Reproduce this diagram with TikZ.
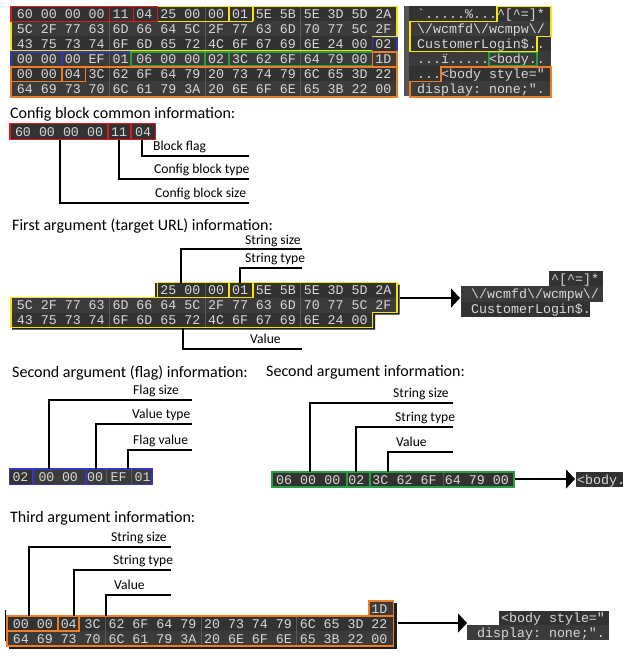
\documentclass[tikz,border=0pt]{standalone}
\usepackage{fontspec}
\setmainfont{Carlito}
\setmonofont{Liberation Mono}
\usetikzlibrary{arrows.meta}
\definecolor{bgA}{HTML}{323232}
\definecolor{bgB}{HTML}{3B3B3A}
\definecolor{barc}{HTML}{555555}
\definecolor{txt}{HTML}{D8D8D8}
\definecolor{sepc}{HTML}{5A5A5A}
\definecolor{shad}{HTML}{1E1E1E}
\definecolor{ored}{HTML}{E3161D}
\definecolor{oyel}{HTML}{F7E600}
\definecolor{oblu}{HTML}{3535C8}
\definecolor{ogrn}{HTML}{25A144}
\definecolor{oorg}{HTML}{F07D22}
\tikzset{
  hx/.style={font=\ttfamily\fontsize{13.3}{15}\selectfont, text=txt, inner sep=0pt, anchor=base},
  asc/.style={hx, anchor=base west},
  lbl/.style={font=\fontsize{13.6}{16}\selectfont, inner sep=0pt, anchor=base west},
  ttl/.style={font=\fontsize{16}{19}\selectfont, inner sep=0pt, anchor=base west},
  conn/.style={line width=1.3pt, black},
  ol/.style={line width=1.5pt},
  sepl/.style={draw=sepc, line width=1pt},
  arr/.style={conn, -{Triangle[length=9pt,width=19pt]}},
}
% #1 name prefix, #2 x0, #3 byte width, #4 baseline, #5 first column, #6 bytes
\newcommand\hexbytes[6]{%
  \foreach \b [count=\i from #5] in {#6} {
    \node[hx, name=#1\i] at ({#2+(\i+0.5)*#3-1}, #4) {\b};
  }}
\begin{document}
\begin{tikzpicture}[x=1pt,y=-1pt]
\useasboundingbox (0,0) rectangle (628,658);

% ================= top dump =================
\foreach \r in {0,2,4} \fill[bgA] (10,{6.5+15*\r}) rectangle (398,{21.5+15*\r});
\foreach \r in {1,3,5} \fill[bgB] (10,{6.5+15*\r}) rectangle (398,{21.5+15*\r});
\foreach \c in {4,8,12} \draw[sepl] ({14+23.9*\c},6.5) -- ({14+23.9*\c},96.5);
\hexbytes{ta}{14}{23.9}{18.4}{0}{60,00,00,00,11,04,25,00,00,01,5E,5B,5E,3D,5D,2A}
\hexbytes{tb}{14}{23.9}{33.4}{0}{5C,2F,77,63,6D,66,64,5C,2F,77,63,6D,70,77,5C,2F}
\hexbytes{tc}{14}{23.9}{48.4}{0}{43,75,73,74,6F,6D,65,72,4C,6F,67,69,6E,24,00,02}
\hexbytes{td}{14}{23.9}{63.4}{0}{00,00,00,EF,01,06,00,00,02,3C,62,6F,64,79,00,1D}
\hexbytes{te}{14}{23.9}{78.4}{0}{00,00,04,3C,62,6F,64,79,20,73,74,79,6C,65,3D,22}
\hexbytes{tf}{14}{23.9}{93.4}{0}{64,69,73,70,6C,61,79,3A,20,6E,6F,6E,65,3B,22,00}
% outlines
\draw[ol, oyel] (157.4,6.5) -- (397,6.5) -- (397,36.5) -- (372.5,36.5) -- (372.5,50.8)
  -- (11,50.8) -- (11,21.5) -- (157.4,21.5) -- cycle;
\draw[ol, oyel] (157.4,21.5) -- (253,21.5) (229.1,6.5) -- (229.1,21.5) (253,6.5) -- (253,21.5);
\draw[ol, ored] (11,6.5) rectangle (157.4,21.5) (109.6,6.5) -- (109.6,21.5) (133.5,6.5) -- (133.5,21.5);
\draw[ol, oblu] (372.5,37.3) rectangle (397,51.5);
\draw[ol, oblu] (11,52.2) rectangle (131,66.5) (61.8,52.2) -- (61.8,66.5);
\draw[ol, ogrn] (131,52.2) rectangle (372.5,66) (205.2,52.2) -- (205.2,66) (229.1,52.2) -- (229.1,66);
\draw[ol, oorg] (372.5,52.2) rectangle (397,66.5);
\draw[ol, oorg] (11,66.8) rectangle (397,96.8) (11,66.8) rectangle (85.7,81.5) (61.8,66.8) -- (61.8,81.5);

% ascii panel
\fill[barc] (404,6.5) rectangle (408.5,96.5);
\foreach \r in {0,2,4} \fill[bgA] (408.5,{6.5+15*\r}) rectangle (551,{21.5+15*\r});
\foreach \r in {1,3,5} \fill[bgB] (408.5,{6.5+15*\r}) rectangle (551,{21.5+15*\r});
\node[asc] (aa) at (417,18.4) {\symbol{96}.....\%...\textasciicircum[\textasciicircum=]*};
\node[asc] (ab) at (417,33.4) {\textbackslash/wcmfd\textbackslash/wcmpw\textbackslash/};
\node[asc] (ac) at (417,48.4) {CustomerLogin\$..};
\node[asc] (ad) at (417,63.4) {...ï.....<body..};
\node[asc] (ae) at (417,78.4) {...<body style="};
\node[asc] (af) at (417,93.4) {display: none;".};
\draw[ol, oyel] (497,6.5) -- (551,6.5) -- (551,36.5) -- (537,36.5) -- (537,51.5) -- (410,51.5)
  -- (410,21.5) -- (497,21.5) -- cycle;
\draw[ol, ogrn] (489,52.5) rectangle (537,66);
\draw[ol, oorg] (441,67) -- (551,67) -- (551,97) -- (410,97) -- (410,81.5) -- (441,81.5) -- cycle;

% ================= config block =================
\node[ttl] (t1) at (10,118) {Config block common information:};
\fill[bgA] (10,123.5) rectangle (155.5,139.5);
\hexbytes{c}{12}{24}{136}{0}{60,00,00,00,11,04}
\draw[ol, ored] (10,123.5) rectangle (155.5,139.5) (108,123.5) -- (108,139.5) (131,123.5) -- (131,139.5);
\draw[conn] (142,139.5) -- (142,156) -- (249,156);
\draw[conn] (119,139.5) -- (119,179) -- (249,179);
\draw[conn] (60,139.5) -- (60,203) -- (249,203);
\node[lbl] (l11) at (153,150.5) {Block flag};
\node[lbl] (l12) at (154,173.5) {Config block type};
\node[lbl] (l13) at (155,197.5) {Config block size};

% ================= first argument =================
\node[ttl] (t2) at (12,230) {First argument (target URL) information:};
\fill[shad] (157,284.5) -- (399.5,284.5) -- (399.5,314.5) -- (375,314.5) -- (375,329.5) -- (12,329.5)
  -- (12,299.5) -- (157,299.5) -- cycle;
\fill[bgA] (155,282.5) rectangle (397.5,297.5);
\fill[bgB] (10,297.5) rectangle (397.5,312.5);
\fill[bgA] (10,312.5) rectangle (373.5,327.5);
\draw[sepl] (205.2,282.5) -- (205.2,327.5) (300.8,282.5) -- (300.8,327.5) (109.6,297.5) -- (109.6,327.5);
\hexbytes{fa}{14}{23.9}{294.4}{6}{25,00,00,01,5E,5B,5E,3D,5D,2A}
\hexbytes{fb}{14}{23.9}{309.4}{0}{5C,2F,77,63,6D,66,64,5C,2F,77,63,6D,70,77,5C,2F}
\hexbytes{fc}{14}{23.9}{324.4}{0}{43,75,73,74,6F,6D,65,72,4C,6F,67,69,6E,24,00}
\draw[ol, oyel] (157.4,282.5) -- (397,282.5) -- (397,312.5) -- (372.5,312.5) -- (372.5,327.5)
  -- (11,327.5) -- (11,297.5) -- (157.4,297.5) -- cycle;
\draw[ol, oyel] (157.4,297.5) -- (253,297.5) (229.1,282.5) -- (229.1,297.5) (253,282.5) -- (253,297.5);
\draw[conn] (181,282.5) -- (181,249) -- (302,249);
\draw[conn] (240,282.5) -- (240,268) -- (302,268);
\draw[conn] (183,327.5) -- (183,349) -- (302,349);
\node[lbl] (l21) at (245,244) {String size};
\node[lbl] (l22) at (245,262.5) {String type};
\node[lbl] (l23) at (250,343.5) {Value};
\coordinate (a1s) at (399.5,298);
\coordinate (a1e) at (460,298);
\draw[arr] (a1s) -- (a1e);
\fill[bgA] (549,271) rectangle (603,286.3);
\fill[bgB] (461,286.3) rectangle (603,301.7);
\fill[bgA] (461,301.7) rectangle (590,317);
\node[asc] (o1a) at (551,283) {\textasciicircum[\textasciicircum=]*};
\node[asc] (o1b) at (471,298.4) {\textbackslash/wcmfd\textbackslash/wcmpw\textbackslash/};
\node[asc] (o1c) at (471,313.7) {CustomerLogin\$.};

% ================= second argument (flag) =================
\node[ttl] (t3) at (12,377) {Second argument (flag) information:};
\fill[bgA] (9.5,469) rectangle (33,484.5);
\fill[bgB] (33,469) rectangle (152,484.5);
\node[hx] (g1) at (20.5,481) {02};
\node[hx] (g2) at (46.5,481) {00};
\node[hx] (g3) at (70,481) {00};
\node[hx] (g4) at (95,481) {00};
\node[hx] (g5) at (118.5,481) {EF};
\node[hx] (g6) at (142.5,481) {01};
\draw[sepl] (106,469) -- (106,484.5) (131,469) -- (131,484.5);
\draw[ol, oblu] (9.5,469) rectangle (152,484.5) (33,469) -- (33,484.5) (86,469) -- (86,484.5);
\draw[conn] (49,469) -- (49,400) -- (192,400);
\draw[conn] (96,469) -- (96,424) -- (192,424);
\draw[conn] (128,469) -- (128,450) -- (192,450);
\node[lbl] (l31) at (133,394.5) {Flag size};
\node[lbl] (l32) at (132,418.5) {Value type};
\node[lbl] (l33) at (133,444.5) {Flag value};

% ================= second argument =================
\node[ttl] (t4) at (266,376) {Second argument information:};
\fill[bgA] (272,472) rectangle (514,487);
\draw[sepl] (443,472) -- (443,487);
\hexbytes{s}{273}{24.1}{484}{0}{06,00,00,02,3C,62,6F,64,79,00}
\draw[ol, ogrn] (272,472) rectangle (514,487) (347,472) -- (347,487) (370,472) -- (370,487);
\draw[conn] (310,472) -- (310,403) -- (453,403);
\draw[conn] (356,472) -- (356,427) -- (453,427);
\draw[conn] (388,472) -- (388,452) -- (453,452);
\node[lbl] (l41) at (393,397.5) {String size};
\node[lbl] (l42) at (395,421.5) {String type};
\node[lbl] (l43) at (396,446.5) {Value};
\coordinate (a2s) at (514.8,479);
\coordinate (a2e) at (575,479);
\draw[arr] (a2s) -- (a2e);
\fill[bgA] (576,472) rectangle (623,487);
\node[asc] (o2) at (577,484) {<body.};

% ================= third argument =================
\node[ttl] (t5) at (10,522) {Third argument information:};
\fill[shad] (371,603) rectangle (397,649);
\fill[shad] (9,618) rectangle (397,649);
\fill[bgB] (369,601) rectangle (393.5,616);
\fill[bgA] (7,616) rectangle (393.5,631);
\fill[bgB] (7,631) rectangle (393.5,646);
\draw[sepl] (105.6,616) -- (105.6,646) (201.2,616) -- (201.2,646) (296.8,616) -- (296.8,646);
\hexbytes{ha}{10}{23.9}{613}{15}{1D}
\hexbytes{hb}{10}{23.9}{628}{0}{00,00,04,3C,62,6F,64,79,20,73,74,79,6C,65,3D,22}
\hexbytes{hc}{10}{23.9}{643}{0}{64,69,73,70,6C,61,79,3A,20,6E,6F,6E,65,3B,22,00}
\draw[ol, oorg] (369,601) rectangle (393.5,616);
\draw[ol, oorg] (7,616) rectangle (393.5,646) (7,616) rectangle (79,631) (58,616) -- (58,631);
\draw[black, line width=1pt] (5.5,610) -- (5.5,641);
\draw[conn] (29,616) -- (29,547) -- (171,547);
\draw[conn] (74,616) -- (74,570) -- (171,570);
\draw[conn] (106,616) -- (106,595) -- (171,595);
\node[lbl] (l51) at (111,541.5) {String size};
\node[lbl] (l52) at (113,564.5) {String type};
\node[lbl] (l53) at (114,589.5) {Value};
\coordinate (a3s) at (397.5,623);
\coordinate (a3e) at (467,623);
\draw[arr] (a3s) -- (a3e);
\fill[bgA] (499,611) rectangle (609,625);
\fill[bgB] (467,625) rectangle (609,640);
\node[asc] (o3a) at (501,622.4) {<body style="};
\node[asc] (o3b) at (477,637) {display: none;".};
\end{tikzpicture}
\end{document}
